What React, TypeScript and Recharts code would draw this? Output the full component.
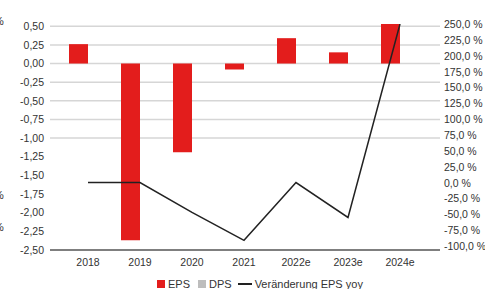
import { ComposedChart, Bar, Line, XAxis, YAxis, CartesianGrid, Legend } from 'recharts';

const categories = ['2018', '2019', '2020', '2021', '2022e', '2023e', '2024e'];
const eps = [0.26, -2.37, -1.19, -0.08, 0.34, 0.15, 0.53];
const dps = [0, 0, 0, 0, 0, 0, 0];
const epsYoy = [0, 0, -47, -91, 0, -55, 250];

const leftTicks = [0.5, 0.25, 0, -0.25, -0.5, -0.75, -1, -1.25, -1.5, -1.75, -2, -2.25, -2.5];
const rightTicks = [250, 225, 200, 175, 150, 125, 100, 75, 50, 25, 0, -25, -50, -75, -100];
const gridValues = [0.5, 0.25, 0, -0.25, -0.5, -0.75, -1];

const data = categories.map((year, i) => ({
  year,
  eps: eps[i],
  dps: dps[i],
  yoy: epsYoy[i],
}));

const FONT = '"Liberation Sans", Arial, sans-serif';
const RED = '#e31d1c';
const GREY = '#bdbdbd';

function RightTick(props: any) {
  const { x, y, payload } = props;
  return (
    <text x={x} y={y} dy={4} textAnchor="start" fill="#333" fontSize={10.5} fontFamily={FONT}>
      {payload.value.toFixed(1).replace('.', ',') + ' %'}
    </text>
  );
}

function LegendBox() {
  return (
    <div style={{ height: 17, boxSizing: 'border-box', paddingTop: 6, display: 'flex', alignItems: 'center', fontFamily: FONT, fontSize: '11px', color: '#333', whiteSpace: 'nowrap' }}>
      <span style={{ width: 8, height: 8, background: RED, display: 'inline-block', marginRight: 3 }} />
      <span style={{ marginRight: 8 }}>EPS</span>
      <span style={{ width: 8, height: 8, background: GREY, display: 'inline-block', marginRight: 3 }} />
      <span style={{ marginRight: 6 }}>DPS</span>
      <span style={{ width: 14, height: 2, background: '#222', display: 'inline-block', marginRight: 3 }} />
      <span>Veränderung EPS yoy</span>
    </div>
  );
}

export default function App() {
  const pct = { position: 'absolute' as const, left: -6, fontFamily: FONT, fontSize: '11px', color: '#333' };
  return (
    <div style={{ position: 'absolute', left: 0, top: 0, width: 485, height: 289, overflow: 'hidden', background: '#fff' }}>
      <span style={{ ...pct, top: 15 }}>%</span>
      <span style={{ ...pct, top: 189 }}>%</span>
      <span style={{ ...pct, top: 221 }}>%</span>
      <ComposedChart
        width={485}
        height={289}
        data={data}
        margin={{ top: 24, right: 0, bottom: 0, left: 0 }}
        barGap={0}
        style={{ fontFamily: FONT }}
      >
        <CartesianGrid yAxisId="left" vertical={false} horizontalValues={gridValues} stroke="#d6d6d6" strokeWidth={1.5} />
        <XAxis
          dataKey="year"
          height={22}
          padding={{ left: 12, right: 14 }}
          tickLine={false}
          tickSize={6}
          tickMargin={3}
          axisLine={{ stroke: '#555', strokeWidth: 1.5 }}
          tick={{ fill: '#333', fontSize: 10.5 }}
          interval={0}
        />
        <YAxis
          yAxisId="left"
          width={50}
          domain={[-2.5, 0.5]}
          ticks={leftTicks}
          interval={0}
          axisLine={false}
          tickLine={false}
          tickSize={4}
          tickMargin={2}
          tick={{ fill: '#333', fontSize: 10.5 }}
          tickFormatter={(v: number) => v.toFixed(2).replace('.', ',')}
        />
        <YAxis
          yAxisId="right"
          orientation="right"
          width={45}
          domain={[-106.3, 250]}
          allowDataOverflow
          ticks={rightTicks}
          interval={0}
          axisLine={false}
          tickLine={false}
          tickSize={2}
          tickMargin={2}
          tick={<RightTick />}
        />
        <Bar yAxisId="left" dataKey="eps" name="EPS" fill={RED} barSize={19} isAnimationActive={false} />
        <Bar yAxisId="left" dataKey="dps" name="DPS" fill={GREY} barSize={19} isAnimationActive={false} />
        <Line
          yAxisId="right"
          dataKey="yoy"
          name="Veränderung EPS yoy"
          type="linear"
          stroke="#222"
          strokeWidth={1.5}
          dot={false}
          isAnimationActive={false}
        />
        <Legend
          verticalAlign="bottom"
          height={17}
          content={() => <LegendBox />}
          wrapperStyle={{ left: 157, width: 'auto' }}
        />
      </ComposedChart>
    </div>
  );
}
